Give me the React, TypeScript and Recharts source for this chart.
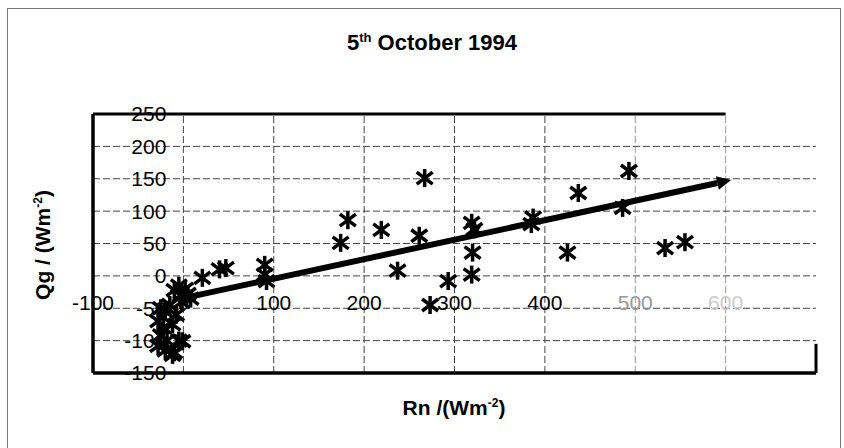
import { ScatterChart, Scatter, XAxis, YAxis, ReferenceLine, ReferenceDot } from 'recharts'

// measured points (Rn, Qg)
const rn = [
  267, 182, 174, 219, 261, 237, 293, 273, 319, 322, 320, 319, 387, 385, 437, 425, 493, 486, 533, 555,
  90, 90, 92, 47, 40, 21,
  -5, -10, 2, -3, 5, -15, -20, -25, -8, -28, -22, -12, -25, -18, -28, -20, -10, -5, -1, -12, -2, 8,
]
const qg = [
  151, 86, 51, 71, 62, 8, -8, -45, 82, 72, 36, 2, 90, 80, 128, 36, 162, 105, 43, 52,
  17, 2, -8, 12, 10, -3,
  -15, -22, -20, -30, -28, -45, -55, -50, -60, -70, -80, -75, -92, -100, -108, -115, -118, -100, -101, -122, -40, -35,
]
const points = rn.map((x, i) => ({ x, y: qg[i] }))

// regression line end points
const fitX = [-5, 606]
const fitY = [-36, 148]
const fit = fitX.map((x, i) => ({ x, y: fitY[i] }))

const xTicks = [-100, 0, 100, 200, 300, 400, 500, 600, 700]
const yTicks = [-150, -100, -50, 0, 50, 100, 150, 200, 250]
const xLabels = [-100, 0, 100, 200, 300, 400, 500, 600]
const yLabels = [-150, -100, -50, 0, 50, 100, 150, 200, 250]

const FONT = '"Liberation Sans", Arial, sans-serif'

const Asterisk = (props: any) => {
  const { cx, cy } = props
  if (cx == null || cy == null) return <g />
  return (
    <g stroke="#000" strokeWidth={3.5} strokeLinecap="butt">
      <line x1={cx} y1={cy - 9} x2={cx} y2={cy + 9} />
      <line x1={cx - 8} y1={cy - 6} x2={cx + 8} y2={cy + 6} />
      <line x1={cx - 8} y1={cy + 6} x2={cx + 8} y2={cy - 6} />
    </g>
  )
}

const ArrowLine = (props: any) => {
  const pts = props.points || []
  if (pts.length < 2) return <g />
  const a = pts[0]
  const b = pts[pts.length - 1]
  const ang = Math.atan2(b.y - a.y, b.x - a.x)
  const len = 14
  const hw = 7
  const bx = b.x - len * Math.cos(ang)
  const by = b.y - len * Math.sin(ang)
  const px = -Math.sin(ang) * hw
  const py = Math.cos(ang) * hw
  return (
    <g>
      <line x1={a.x} y1={a.y} x2={bx} y2={by} stroke="#000" strokeWidth={6} />
      <polygon points={`${b.x},${b.y} ${bx + px},${by + py} ${bx - px},${by - py}`} fill="#000" />
    </g>
  )
}

const tickColor = (v: number) => (v >= 600 ? '#ccc' : v >= 500 ? '#999' : '#000')
const gridColor = (v: number) => (v >= 500 ? '#999' : '#444')

export default function App() {
  return (
    <div style={{ position: 'absolute', left: 0, top: 0, width: 844, height: 448, background: '#fff', fontFamily: FONT, overflow: 'hidden' }}>
      <div style={{ position: 'absolute', left: 7, top: 8, width: 832, height: 445, border: '1px solid #777', borderBottom: 'none' }} />
      <div style={{ position: 'absolute', left: 0, width: 844, top: 30, textAlign: 'center', fontWeight: 'bold', fontSize: 22, paddingLeft: 10 }}>
        5<sup style={{ fontSize: 13 }}>th</sup> October 1994
      </div>
      <div style={{ position: 'absolute', left: 354, width: 200, top: 396, textAlign: 'center', fontWeight: 'bold', fontSize: 21 }}>
        Rn /(Wm<sup style={{ fontSize: 12 }}>-2</sup>)
      </div>
      <div style={{ position: 'absolute', left: 43, top: 245, transform: 'translate(-50%, -50%) rotate(-90deg)', whiteSpace: 'nowrap', fontWeight: 'bold', fontSize: 21 }}>
        Qg / (Wm<sup style={{ fontSize: 12 }}>-2</sup>)
      </div>
      <div style={{ position: 'absolute', left: 0, top: 0 }}>
        <ScatterChart width={844} height={448} margin={{ top: 114, right: 28, bottom: 75, left: 93 }}>
          <XAxis type="number" dataKey="x" domain={[-100, 700]} ticks={xTicks} tick={false} tickLine={false} height={0}
            axisLine={false} allowDataOverflow />
          <YAxis type="number" dataKey="y" domain={[-150, 250]} ticks={yTicks} tick={false} tickLine={false} width={0}
            axisLine={false} allowDataOverflow />
          {xTicks.slice(1, -1).map((v) => (
            <ReferenceLine key={'gx' + v} x={v} stroke={gridColor(v)} strokeWidth={1} strokeDasharray="7 3" />
          ))}
          {yTicks.slice(1, -1).map((v) => (
            <ReferenceLine key={'gy' + v} y={v} stroke="#444" strokeWidth={1} strokeDasharray="7 3" />
          ))}
          <ReferenceLine segment={[{ x: -100, y: 250 }, { x: 600, y: 250 }]} stroke="#000" strokeWidth={3} />
          <ReferenceLine segment={[{ x: -100, y: -150 }, { x: -100, y: 250 }]} stroke="#000" strokeWidth={3.5} />
          <ReferenceLine segment={[{ x: -100, y: -150 }, { x: 700, y: -150 }]} stroke="#000" strokeWidth={3.5} />
          <ReferenceLine segment={[{ x: 700, y: -150 }, { x: 700, y: -105 }]} stroke="#000" strokeWidth={3} />
          {yLabels.map((v) => (
            <ReferenceDot key={'y' + v} x={0} y={v} r={0} stroke="none" fill="none"
              label={{ value: String(v), position: 'left', offset: 17, fill: '#000', fontSize: 21, fontFamily: FONT }} />
          ))}
          {xLabels.map((v) => (
            <ReferenceDot key={'x' + v} x={v} y={0} r={0} stroke="none" fill="none"
              label={{ value: String(v), position: 'bottom', offset: 19, fill: tickColor(v), fontSize: 21, fontFamily: FONT }} />
          ))}
          <Scatter data={fit} line={ArrowLine} shape={() => <g />} isAnimationActive={false} />
          <Scatter data={points} shape={Asterisk} isAnimationActive={false} />
        </ScatterChart>
      </div>
    </div>
  )
}
